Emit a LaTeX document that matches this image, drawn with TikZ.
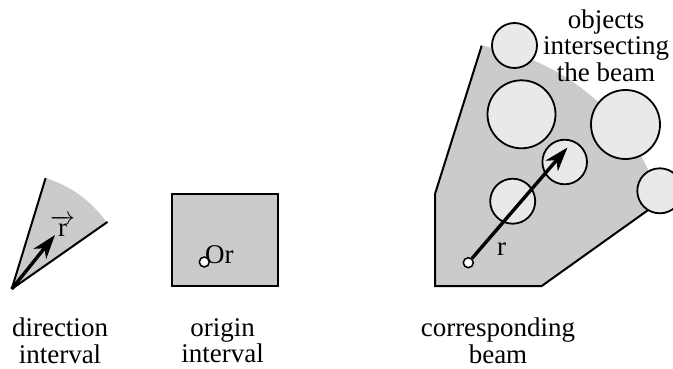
\documentclass[tikz,border=0pt]{standalone}
\usepackage{fontspec}
\setmainfont{Liberation Serif}
\usetikzlibrary{arrows.meta}
\definecolor{beamgray}{RGB}{203,203,205}
\definecolor{objgray}{RGB}{233,233,235}
\tikzset{
  edge/.style={line width=2pt},
  object/.style={circle, draw, line width=1.8pt, fill=objgray, inner sep=0pt},
  dot/.style={circle, draw, line width=1.5pt, fill=white, inner sep=0pt, minimum size=10pt},
  vecarrow/.style={line width=3.4pt, -{Stealth[length=24pt,width=16pt,inset=7pt]}},
  caption/.style={align=center, inner sep=0pt, font=\fontsize{27}{26.5}\selectfont},
}
\begin{document}
\begin{tikzpicture}[x=1pt,y=1pt]
                \useasboundingbox (0,0) rectangle (673,368);
                % direction interval
                \coordinate (apex) at (11.7,79);
                \coordinate (dirtip) at (55,133);
                \fill[beamgray] (apex) -- ++(73:116) arc[start angle=73,end angle=35,radius=116] -- cycle;
                \draw[edge] (apex) -- ++(73:116);
                \draw[edge] (apex) -- ++(35:117);
                \draw[vecarrow] (apex) -- (dirtip);
                \node[caption, anchor=base] (rvec) at (62.5,131.3) {$\overrightarrow{\textrm{r}}$};

                % origin interval
                \draw[edge, fill=beamgray] (172,82) rectangle (278,174);
                \node[dot] (origdot) at (204.3,106) {};
                \node[caption, anchor=base west] (orlabel) at (205,105) {Or};

                % beam
                \fill[beamgray] (435,82) -- (435,174) -- (481.7,322.3) arc[start angle=81,end angle=16.9,radius=223.5] -- (541.7,82) -- cycle;
                \draw[edge] (481.7,322.3) -- (435,174) -- (435,82) -- (541.7,82) -- (660.8,167);
                \node[object, minimum size=45pt] (obja) at (514.5,322.5) {};
                \node[object, minimum size=68pt] (objb) at (521.5,253.7) {};
                \node[object, minimum size=69pt] (objc) at (625.5,243.5) {};
                \node[object, minimum size=44.6pt] (objd) at (564.7,206) {};
                \node[object, minimum size=45pt] (obje) at (512.7,166.8) {};
                \node[object, minimum size=45pt] (objf) at (659.8,177.2) {};
                \node[dot] (beamdot) at (468.3,105.3) {};
                \coordinate (beamtip) at (567.5,220.5);
                \draw[vecarrow] (beamdot) -- (beamtip);
                \node[caption, anchor=base] (rlabel) at (501.7,113) {r};

                \node[caption] (dirlabel) at (60,27.3) {direction\\interval};
                \node[caption] (originlabel) at (222.7,27.3) {origin\\interval};
                \node[caption] (beamlabel) at (498,27.3) {corresponding\\beam};
                \node[caption] (objlabel) at (606,322.3) {objects\\intersecting\\the beam};
\end{tikzpicture}
\end{document}
